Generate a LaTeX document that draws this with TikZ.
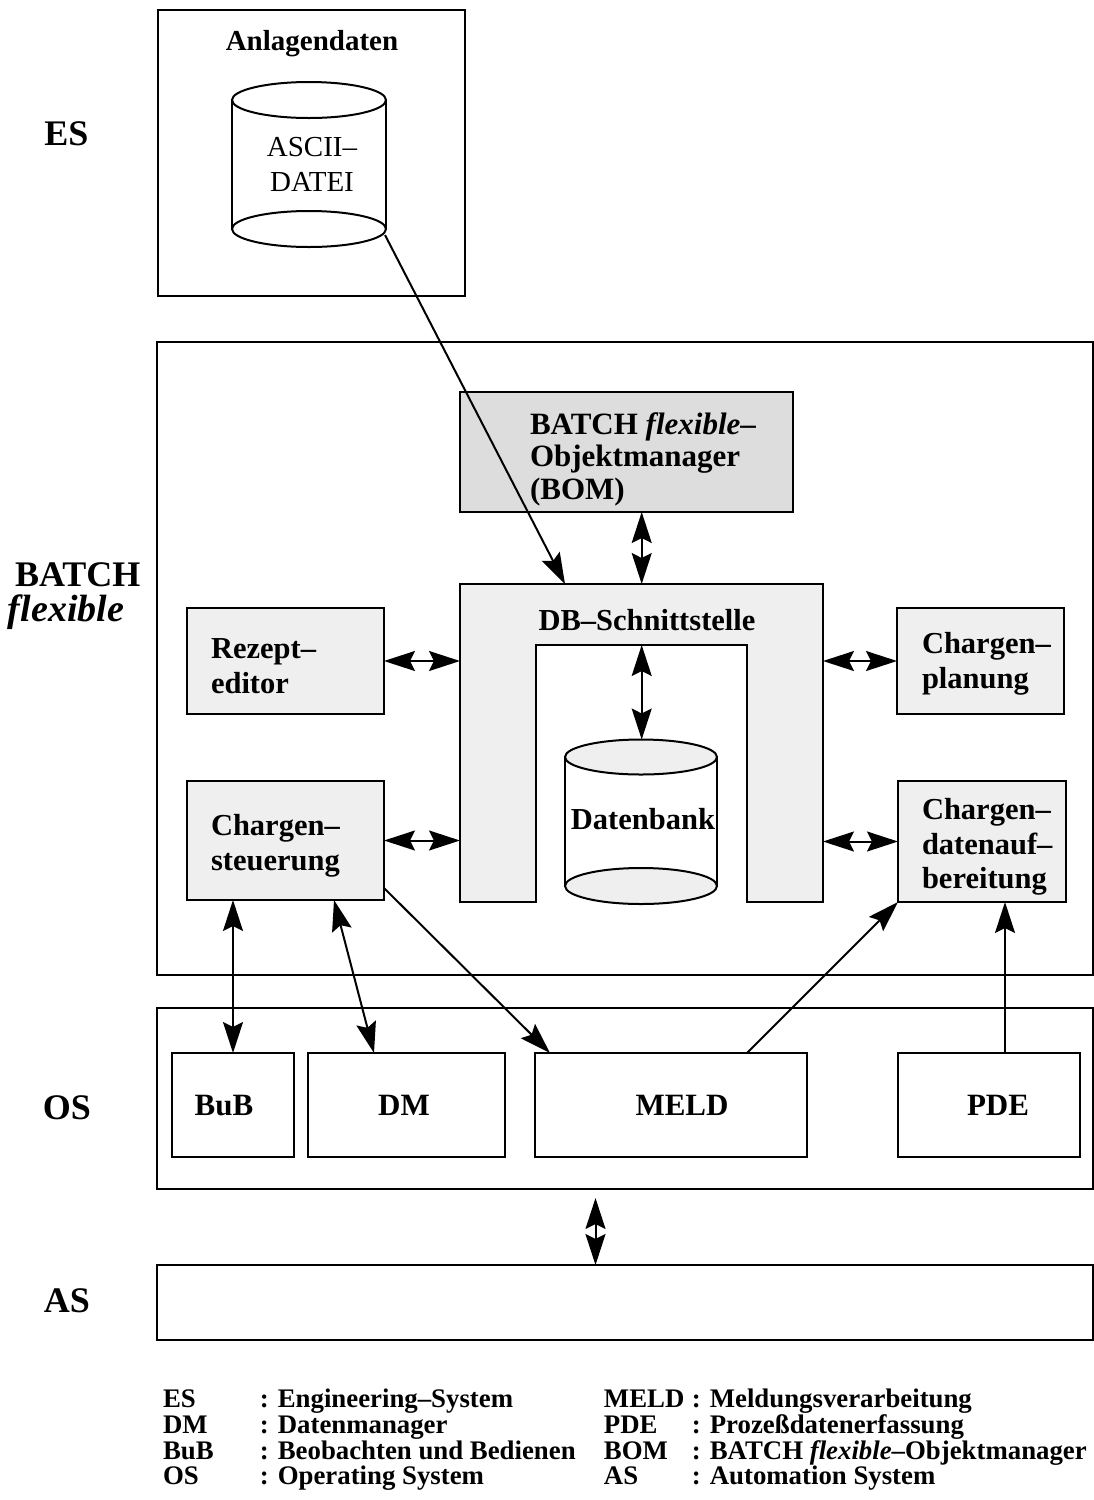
\documentclass[tikz,border=0pt]{standalone}
\usepackage{fontspec}
\setmainfont{Liberation Serif}
\usetikzlibrary{arrows.meta}
\definecolor{bomfill}{RGB}{221,221,221}
\definecolor{boxfill}{RGB}{239,239,239}
\newcommand{\boxfnt}{\fontsize{30.5}{34.5}\selectfont\bfseries}
\newcommand{\sidefnt}{\fontsize{36}{37}\selectfont\bfseries}
\begin{document}
\begin{tikzpicture}[x=1pt,y=-1pt,line width=2pt,
  >={Stealth[length=31pt,width=20pt,inset=5pt]},
  frame/.style={draw,anchor=north west,inner sep=0pt,outer sep=0pt},
  gbox/.style={frame,fill=boxfill},
  txt/.style={inner sep=0pt,outer sep=0pt,font=\boxfnt,align=left},
  side/.style={inner sep=0pt,outer sep=0pt,font=\sidefnt,anchor=base},
  cyl/.style={draw},
]
\useasboundingbox (0,0) rectangle (1094,1500);

% ---------- ES ----------
\node[frame,minimum width=307,minimum height=286] (es) at (158,10) {};
\node[txt,font=\fontsize{29}{33}\selectfont\bfseries,anchor=base] (anl) at (312,50) {Anlagendaten};
\draw[cyl] (232,100) -- (232,229) (386,100) -- (386,229);
\draw[cyl] (309,100) ellipse [x radius=77,y radius=18];
\draw[cyl] (309,229) ellipse [x radius=77,y radius=18];
\node[txt,font=\fontsize{29}{35}\selectfont,align=center] (ascii) at (312,164) {ASCII–\\DATEI};
\coordinate (asciiout) at (385,235);

% ---------- side labels ----------
\node[side] (lES) at (66.5,145) {ES};
\node[side,anchor=base west] (lB1) at (15,586) {BATCH};
\node[side,anchor=base west,font=\fontsize{38}{38}\selectfont\bfseries\itshape] (lB2) at (8,621) {flexible};
\node[side] (lOS) at (67,1119) {OS};
\node[side] (lAS) at (67,1312) {AS};

% ---------- BATCH flexible ----------
\node[frame,minimum width=936,minimum height=633] (batch) at (157,342) {};
\node[frame,fill=bomfill,minimum width=333,minimum height=120] (bom) at (460,392) {};
\node[txt,font=\fontsize{31}{32.5}\selectfont\bfseries,anchor=west] (bomtxt) at (530,459) {BATCH \textit{flexible}–\\Objektmanager\\(BOM)};

% DB-Schnittstelle
\filldraw[fill=boxfill] (460,584) -- (823,584) -- (823,902) -- (747,902) -- (747,645) -- (536,645) -- (536,902) -- (460,902) -- cycle;
\node[inner sep=0pt,outer sep=0pt,minimum width=363,minimum height=318,anchor=north west] (dbs) at (460,584) {};
\node[txt,anchor=base] (dbstxt) at (647,630) {DB–Schnittstelle};
\coordinate (dbin) at (641.7,645);
\coordinate (dbA) at (565,584);

% Datenbank cylinder
\draw[cyl] (565,757) -- (565,886) (717,757) -- (717,886);
\filldraw[fill=boxfill] (641,757) ellipse [x radius=76,y radius=17.5];
\filldraw[fill=boxfill] (641,886) ellipse [x radius=76,y radius=18];
\node[txt,anchor=base] (datb) at (643,829) {Datenbank};
\coordinate (dbtop) at (641.7,739.5);

% side boxes
\node[gbox,minimum width=197,minimum height=106] (rez) at (187,608) {};
\node[txt,font=\fontsize{30.5}{35.5}\selectfont\bfseries,anchor=west] (reztxt) at (211,666) {Rezept–\\editor};
\node[gbox,minimum width=197,minimum height=119] (cst) at (187,781) {};
\node[txt,anchor=west] (csttxt) at (211,846) {Chargen–\\steuerung};
\node[gbox,minimum width=167,minimum height=106] (cpl) at (897,608) {};
\node[txt,anchor=west] (cpltxt) at (922,664) {Chargen–\\planung};
\node[gbox,minimum width=168,minimum height=121] (cda) at (898,781) {};
\node[txt,anchor=west] (cdatxt) at (922,847) {Chargen–\\datenauf–\\bereitung};

% ---------- OS ----------
\node[frame,minimum width=936,minimum height=181] (os) at (157,1008) {};
\node[frame,minimum width=122,minimum height=104] (bub) at (172,1053) {};
\node[frame,minimum width=197,minimum height=104] (dm) at (308,1053) {};
\node[frame,minimum width=272,minimum height=104] (meld) at (535,1053) {};
\node[frame,minimum width=182,minimum height=104] (pde) at (898,1053) {};
\node[txt,font=\fontsize{31}{34}\selectfont\bfseries,anchor=base] (bubt) at (224,1115) {BuB};
\node[txt,font=\fontsize{31}{34}\selectfont\bfseries,anchor=base] (dmt) at (404,1115) {DM};
\node[txt,font=\fontsize{31}{34}\selectfont\bfseries,anchor=base] (meldt) at (682,1115) {MELD};
\node[txt,font=\fontsize{31}{34}\selectfont\bfseries,anchor=base] (pdet) at (998,1115) {PDE};

% ---------- AS ----------
\node[frame,minimum width=936,minimum height=75] (as) at (157,1265) {};

% ---------- connectors ----------
\draw[->] (asciiout) -- (dbA);
\draw[<->] (bom.south -| dbin) -- (dbs.north -| dbin);
\draw[<->] (dbin) -- (dbtop);
\draw[<->] (rez.east) -- (dbs.west |- rez.east);
\draw[<->] (cst.east) -- (dbs.west |- cst.east);
\draw[<->] (dbs.east |- cpl.west) -- (cpl.west);
\draw[<->] (dbs.east |- cda.west) -- (cda.west);

\draw[<->] (cst.south -| bub.north) -- (bub.north);
\coordinate (cstdm) at (334,900);
\coordinate (dmin) at (374,1053);
\draw[<->] (cstdm) -- (dmin);
\coordinate (cstout) at (384,888);
\draw[->] (cstout) -- ([xshift=15pt]meld.north west);
\draw[->] ([xshift=-60pt]meld.north east) -- (cda.south west);
\draw[->] ([xshift=16pt]pde.north) -- ([xshift=16pt]pde.north |- cda.south);
\coordinate (osas) at (595.5,1198);
\draw[<->] (osas) -- (as.north -| osas);

% ---------- legend ----------
\node[anchor=base west,inner sep=0pt,outer sep=0pt,font=\fontsize{26.8}{24.5}\selectfont\bfseries] (legend) at (163,1407) {%
\renewcommand{\arraystretch}{0.97}%
\begin{tabular}[t]{@{}p{97pt}@{}p{344pt}@{}p{88pt}@{}l@{}}
ES & : Engineering–System & MELD & : Meldungsverarbeitung\\
DM & : Datenmanager & PDE & : Prozeßdatenerfassung\\
BuB & : Beobachten und Bedienen & BOM & : BATCH \textit{flexible}–Objektmanager\\
OS & : Operating System & AS & : Automation System
\end{tabular}};
\end{tikzpicture}
\end{document}
